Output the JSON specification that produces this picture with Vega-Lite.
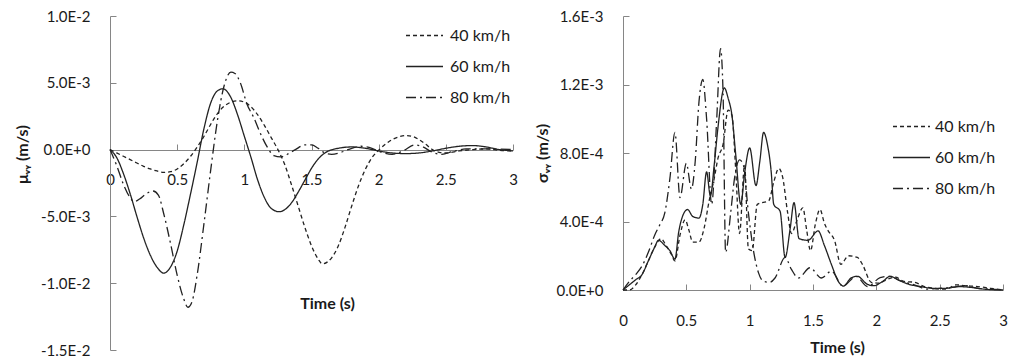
{
  "$schema": "https://vega.github.io/schema/vega-lite/v6.json",
  "background": "white",
  "padding": {"left": 14, "top": 9, "right": 0, "bottom": 0},
  "spacing": 110,
  "bounds": "flush",
  "config": {
    "font": "Lato",
    "view": {"stroke": null},
    "axis": {
      "domainColor": "#868686", "tickColor": "#868686", "tickSize": -6, "grid": false,
      "labelFontSize": 15, "labelColor": "#1a1a1a", "labelFont": "Lato",
      "titleFontSize": 16, "titleFontWeight": "bold", "titleColor": "#1a1a1a", "titleFont": "Lato",
      "labelFlush": false, "labelOverlap": false
    },
    "legend": {
      "symbolType": "stroke", "symbolSize": 1369, "symbolStrokeWidth": 1.3, "symbolStrokeColor": "#222",
      "labelFontSize": 16, "labelFont": "Lato", "labelColor": "#1a1a1a", "rowPadding": 3, "padding": 0, "labelOffset": 6
    }
  },
  "datasets": {
    "mu": [
      {"s":"40 km/h","t":0,"v":0},{"s":"40 km/h","t":0.05,"v":-0.25e-3},{"s":"40 km/h","t":0.1,"v":-0.5e-3},{"s":"40 km/h","t":0.15,"v":-0.75e-3},{"s":"40 km/h","t":0.2,"v":-1.0e-3},{"s":"40 km/h","t":0.25,"v":-1.25e-3},{"s":"40 km/h","t":0.3,"v":-1.45e-3},{"s":"40 km/h","t":0.35,"v":-1.6e-3},{"s":"40 km/h","t":0.4,"v":-1.7e-3},{"s":"40 km/h","t":0.45,"v":-1.65e-3},{"s":"40 km/h","t":0.5,"v":-1.45e-3},{"s":"40 km/h","t":0.55,"v":-1.05e-3},{"s":"40 km/h","t":0.6,"v":-0.5e-3},{"s":"40 km/h","t":0.65,"v":0.2e-3},{"s":"40 km/h","t":0.7,"v":1.0e-3},{"s":"40 km/h","t":0.75,"v":1.9e-3},{"s":"40 km/h","t":0.8,"v":2.7e-3},{"s":"40 km/h","t":0.85,"v":3.25e-3},{"s":"40 km/h","t":0.9,"v":3.55e-3},{"s":"40 km/h","t":0.95,"v":3.65e-3},{"s":"40 km/h","t":1.0,"v":3.55e-3},{"s":"40 km/h","t":1.05,"v":3.2e-3},{"s":"40 km/h","t":1.1,"v":2.6e-3},{"s":"40 km/h","t":1.15,"v":1.8e-3},{"s":"40 km/h","t":1.2,"v":0.9e-3},{"s":"40 km/h","t":1.25,"v":0},{"s":"40 km/h","t":1.3,"v":-1.1e-3},{"s":"40 km/h","t":1.35,"v":-2.6e-3},{"s":"40 km/h","t":1.4,"v":-4.2e-3},{"s":"40 km/h","t":1.45,"v":-5.8e-3},{"s":"40 km/h","t":1.5,"v":-7.2e-3},{"s":"40 km/h","t":1.55,"v":-8.2e-3},{"s":"40 km/h","t":1.58,"v":-8.55e-3},{"s":"40 km/h","t":1.62,"v":-8.4e-3},{"s":"40 km/h","t":1.65,"v":-8.1e-3},{"s":"40 km/h","t":1.7,"v":-7.2e-3},{"s":"40 km/h","t":1.75,"v":-5.8e-3},{"s":"40 km/h","t":1.8,"v":-4.2e-3},{"s":"40 km/h","t":1.85,"v":-2.7e-3},{"s":"40 km/h","t":1.9,"v":-1.5e-3},{"s":"40 km/h","t":1.95,"v":-0.6e-3},{"s":"40 km/h","t":2.0,"v":-0.05e-3},{"s":"40 km/h","t":2.05,"v":0.4e-3},{"s":"40 km/h","t":2.1,"v":0.75e-3},{"s":"40 km/h","t":2.15,"v":0.95e-3},{"s":"40 km/h","t":2.2,"v":1.05e-3},{"s":"40 km/h","t":2.25,"v":1.0e-3},{"s":"40 km/h","t":2.3,"v":0.75e-3},{"s":"40 km/h","t":2.35,"v":0.4e-3},{"s":"40 km/h","t":2.4,"v":0},{"s":"40 km/h","t":2.45,"v":-0.2e-3},{"s":"40 km/h","t":2.5,"v":-0.25e-3},{"s":"40 km/h","t":2.6,"v":-0.1e-3},{"s":"40 km/h","t":2.7,"v":0},{"s":"40 km/h","t":2.8,"v":0.05e-3},{"s":"40 km/h","t":2.9,"v":-0.05e-3},{"s":"40 km/h","t":3.0,"v":-0.1e-3},
      {"s":"60 km/h","t":0,"v":0},{"s":"60 km/h","t":0.05,"v":-0.6e-3},{"s":"60 km/h","t":0.1,"v":-1.8e-3},{"s":"60 km/h","t":0.15,"v":-3.3e-3},{"s":"60 km/h","t":0.2,"v":-5.0e-3},{"s":"60 km/h","t":0.25,"v":-6.6e-3},{"s":"60 km/h","t":0.3,"v":-7.9e-3},{"s":"60 km/h","t":0.35,"v":-8.8e-3},{"s":"60 km/h","t":0.4,"v":-9.25e-3},{"s":"60 km/h","t":0.45,"v":-8.8e-3},{"s":"60 km/h","t":0.5,"v":-7.6e-3},{"s":"60 km/h","t":0.55,"v":-5.6e-3},{"s":"60 km/h","t":0.6,"v":-3.3e-3},{"s":"60 km/h","t":0.65,"v":-0.9e-3},{"s":"60 km/h","t":0.7,"v":1.6e-3},{"s":"60 km/h","t":0.75,"v":3.5e-3},{"s":"60 km/h","t":0.8,"v":4.4e-3},{"s":"60 km/h","t":0.84,"v":4.55e-3},{"s":"60 km/h","t":0.9,"v":3.9e-3},{"s":"60 km/h","t":0.95,"v":2.6e-3},{"s":"60 km/h","t":1.0,"v":1.0e-3},{"s":"60 km/h","t":1.05,"v":-0.6e-3},{"s":"60 km/h","t":1.1,"v":-2.3e-3},{"s":"60 km/h","t":1.15,"v":-3.6e-3},{"s":"60 km/h","t":1.2,"v":-4.4e-3},{"s":"60 km/h","t":1.26,"v":-4.65e-3},{"s":"60 km/h","t":1.3,"v":-4.5e-3},{"s":"60 km/h","t":1.35,"v":-4.0e-3},{"s":"60 km/h","t":1.4,"v":-3.2e-3},{"s":"60 km/h","t":1.45,"v":-2.3e-3},{"s":"60 km/h","t":1.5,"v":-1.4e-3},{"s":"60 km/h","t":1.55,"v":-0.7e-3},{"s":"60 km/h","t":1.6,"v":-0.25e-3},{"s":"60 km/h","t":1.7,"v":0.1e-3},{"s":"60 km/h","t":1.8,"v":0.2e-3},{"s":"60 km/h","t":1.9,"v":0.1e-3},{"s":"60 km/h","t":2.0,"v":-0.1e-3},{"s":"60 km/h","t":2.1,"v":-0.25e-3},{"s":"60 km/h","t":2.2,"v":-0.3e-3},{"s":"60 km/h","t":2.3,"v":-0.25e-3},{"s":"60 km/h","t":2.4,"v":-0.1e-3},{"s":"60 km/h","t":2.5,"v":0.1e-3},{"s":"60 km/h","t":2.6,"v":0.25e-3},{"s":"60 km/h","t":2.7,"v":0.3e-3},{"s":"60 km/h","t":2.8,"v":0.2e-3},{"s":"60 km/h","t":2.9,"v":0},{"s":"60 km/h","t":3.0,"v":-0.1e-3},
      {"s":"80 km/h","t":0,"v":0},{"s":"80 km/h","t":0.05,"v":-1.2e-3},{"s":"80 km/h","t":0.1,"v":-2.6e-3},{"s":"80 km/h","t":0.15,"v":-3.6e-3},{"s":"80 km/h","t":0.18,"v":-3.9e-3},{"s":"80 km/h","t":0.22,"v":-3.7e-3},{"s":"80 km/h","t":0.27,"v":-3.3e-3},{"s":"80 km/h","t":0.32,"v":-3.1e-3},{"s":"80 km/h","t":0.36,"v":-3.4e-3},{"s":"80 km/h","t":0.4,"v":-4.8e-3},{"s":"80 km/h","t":0.45,"v":-7.0e-3},{"s":"80 km/h","t":0.5,"v":-9.4e-3},{"s":"80 km/h","t":0.55,"v":-11.2e-3},{"s":"80 km/h","t":0.58,"v":-11.8e-3},{"s":"80 km/h","t":0.61,"v":-11.4e-3},{"s":"80 km/h","t":0.65,"v":-9.3e-3},{"s":"80 km/h","t":0.7,"v":-5.5e-3},{"s":"80 km/h","t":0.75,"v":-1.5e-3},{"s":"80 km/h","t":0.8,"v":2.2e-3},{"s":"80 km/h","t":0.85,"v":4.8e-3},{"s":"80 km/h","t":0.9,"v":5.8e-3},{"s":"80 km/h","t":0.93,"v":5.7e-3},{"s":"80 km/h","t":0.97,"v":5.0e-3},{"s":"80 km/h","t":1.02,"v":3.4e-3},{"s":"80 km/h","t":1.07,"v":2.4e-3},{"s":"80 km/h","t":1.12,"v":1.2e-3},{"s":"80 km/h","t":1.17,"v":0.2e-3},{"s":"80 km/h","t":1.22,"v":-0.45e-3},{"s":"80 km/h","t":1.27,"v":-0.55e-3},{"s":"80 km/h","t":1.32,"v":-0.35e-3},{"s":"80 km/h","t":1.38,"v":0},{"s":"80 km/h","t":1.45,"v":0.35e-3},{"s":"80 km/h","t":1.5,"v":0.35e-3},{"s":"80 km/h","t":1.55,"v":0.1e-3},{"s":"80 km/h","t":1.6,"v":-0.25e-3},{"s":"80 km/h","t":1.65,"v":-0.35e-3},{"s":"80 km/h","t":1.72,"v":-0.2e-3},{"s":"80 km/h","t":1.8,"v":0.1e-3},{"s":"80 km/h","t":1.87,"v":0.25e-3},{"s":"80 km/h","t":1.95,"v":0.1e-3},{"s":"80 km/h","t":2.02,"v":-0.2e-3},{"s":"80 km/h","t":2.1,"v":-0.35e-3},{"s":"80 km/h","t":2.18,"v":-0.1e-3},{"s":"80 km/h","t":2.27,"v":0.35e-3},{"s":"80 km/h","t":2.33,"v":0.2e-3},{"s":"80 km/h","t":2.4,"v":-0.2e-3},{"s":"80 km/h","t":2.47,"v":-0.35e-3},{"s":"80 km/h","t":2.55,"v":-0.15e-3},{"s":"80 km/h","t":2.65,"v":0.05e-3},{"s":"80 km/h","t":2.8,"v":0.05e-3},{"s":"80 km/h","t":3.0,"v":0}
    ],
    "sigma": [
      {"s":"40 km/h","t":0,"v":0},{"s":"40 km/h","t":0.05,"v":0},{"s":"40 km/h","t":0.1,"v":0.3e-4},{"s":"40 km/h","t":0.15,"v":0.9e-4},{"s":"40 km/h","t":0.2,"v":1.7e-4},{"s":"40 km/h","t":0.25,"v":2.5e-4},{"s":"40 km/h","t":0.3,"v":3.0e-4},{"s":"40 km/h","t":0.34,"v":2.6e-4},{"s":"40 km/h","t":0.38,"v":2.1e-4},{"s":"40 km/h","t":0.41,"v":1.7e-4},{"s":"40 km/h","t":0.45,"v":3.2e-4},{"s":"40 km/h","t":0.49,"v":4.1e-4},{"s":"40 km/h","t":0.52,"v":3.5e-4},{"s":"40 km/h","t":0.55,"v":2.8e-4},{"s":"40 km/h","t":0.6,"v":2.8e-4},{"s":"40 km/h","t":0.64,"v":3.6e-4},{"s":"40 km/h","t":0.68,"v":5.2e-4},{"s":"40 km/h","t":0.72,"v":6.5e-4},{"s":"40 km/h","t":0.75,"v":7.7e-4},{"s":"40 km/h","t":0.79,"v":8.5e-4},{"s":"40 km/h","t":0.83,"v":10.5e-4},{"s":"40 km/h","t":0.86,"v":10.2e-4},{"s":"40 km/h","t":0.89,"v":7.0e-4},{"s":"40 km/h","t":0.92,"v":3.3e-4},{"s":"40 km/h","t":0.96,"v":7.3e-4},{"s":"40 km/h","t":0.99,"v":2.4e-4},{"s":"40 km/h","t":1.02,"v":2.3e-4},{"s":"40 km/h","t":1.06,"v":5.0e-4},{"s":"40 km/h","t":1.1,"v":5.1e-4},{"s":"40 km/h","t":1.15,"v":5.2e-4},{"s":"40 km/h","t":1.19,"v":6.3e-4},{"s":"40 km/h","t":1.23,"v":7.1e-4},{"s":"40 km/h","t":1.26,"v":6.6e-4},{"s":"40 km/h","t":1.3,"v":4.5e-4},{"s":"40 km/h","t":1.33,"v":3.3e-4},{"s":"40 km/h","t":1.37,"v":4.0e-4},{"s":"40 km/h","t":1.42,"v":4.8e-4},{"s":"40 km/h","t":1.45,"v":3.5e-4},{"s":"40 km/h","t":1.48,"v":2.3e-4},{"s":"40 km/h","t":1.52,"v":3.9e-4},{"s":"40 km/h","t":1.555,"v":4.7e-4},{"s":"40 km/h","t":1.59,"v":3.9e-4},{"s":"40 km/h","t":1.62,"v":3.45e-4},{"s":"40 km/h","t":1.67,"v":2.9e-4},{"s":"40 km/h","t":1.72,"v":1.5e-4},{"s":"40 km/h","t":1.78,"v":2.0e-4},{"s":"40 km/h","t":1.85,"v":1.9e-4},{"s":"40 km/h","t":1.89,"v":1.5e-4},{"s":"40 km/h","t":1.96,"v":0.45e-4},{"s":"40 km/h","t":2.02,"v":0.4e-4},{"s":"40 km/h","t":2.08,"v":0.6e-4},{"s":"40 km/h","t":2.15,"v":0.75e-4},{"s":"40 km/h","t":2.22,"v":0.5e-4},{"s":"40 km/h","t":2.3,"v":0.45e-4},{"s":"40 km/h","t":2.38,"v":0.2e-4},{"s":"40 km/h","t":2.45,"v":0.1e-4},{"s":"40 km/h","t":2.55,"v":0.05e-4},{"s":"40 km/h","t":2.63,"v":0.3e-4},{"s":"40 km/h","t":2.7,"v":0.25e-4},{"s":"40 km/h","t":2.8,"v":0.2e-4},{"s":"40 km/h","t":2.9,"v":0.1e-4},{"s":"40 km/h","t":3.0,"v":0},
      {"s":"60 km/h","t":0,"v":0},{"s":"60 km/h","t":0.05,"v":0.3e-4},{"s":"60 km/h","t":0.1,"v":0.6e-4},{"s":"60 km/h","t":0.15,"v":0.9e-4},{"s":"60 km/h","t":0.2,"v":1.7e-4},{"s":"60 km/h","t":0.25,"v":2.5e-4},{"s":"60 km/h","t":0.28,"v":2.9e-4},{"s":"60 km/h","t":0.33,"v":2.6e-4},{"s":"60 km/h","t":0.37,"v":2.3e-4},{"s":"60 km/h","t":0.41,"v":1.8e-4},{"s":"60 km/h","t":0.44,"v":3.4e-4},{"s":"60 km/h","t":0.47,"v":4.3e-4},{"s":"60 km/h","t":0.51,"v":4.7e-4},{"s":"60 km/h","t":0.55,"v":4.3e-4},{"s":"60 km/h","t":0.6,"v":4.2e-4},{"s":"60 km/h","t":0.63,"v":5.0e-4},{"s":"60 km/h","t":0.66,"v":6.9e-4},{"s":"60 km/h","t":0.69,"v":5.5e-4},{"s":"60 km/h","t":0.72,"v":7.3e-4},{"s":"60 km/h","t":0.75,"v":9.5e-4},{"s":"60 km/h","t":0.8,"v":11.8e-4},{"s":"60 km/h","t":0.83,"v":11.2e-4},{"s":"60 km/h","t":0.86,"v":10.2e-4},{"s":"60 km/h","t":0.89,"v":7.9e-4},{"s":"60 km/h","t":0.93,"v":5.0e-4},{"s":"60 km/h","t":0.96,"v":6.8e-4},{"s":"60 km/h","t":1.0,"v":8.3e-4},{"s":"60 km/h","t":1.05,"v":6.1e-4},{"s":"60 km/h","t":1.08,"v":7.5e-4},{"s":"60 km/h","t":1.11,"v":9.2e-4},{"s":"60 km/h","t":1.14,"v":8.5e-4},{"s":"60 km/h","t":1.17,"v":6.9e-4},{"s":"60 km/h","t":1.19,"v":5.0e-4},{"s":"60 km/h","t":1.24,"v":4.6e-4},{"s":"60 km/h","t":1.28,"v":1.9e-4},{"s":"60 km/h","t":1.32,"v":3.6e-4},{"s":"60 km/h","t":1.35,"v":5.1e-4},{"s":"60 km/h","t":1.39,"v":3.0e-4},{"s":"60 km/h","t":1.46,"v":2.9e-4},{"s":"60 km/h","t":1.54,"v":3.45e-4},{"s":"60 km/h","t":1.59,"v":2.6e-4},{"s":"60 km/h","t":1.645,"v":1.5e-4},{"s":"60 km/h","t":1.7,"v":0.5e-4},{"s":"60 km/h","t":1.74,"v":0.23e-4},{"s":"60 km/h","t":1.8,"v":0.7e-4},{"s":"60 km/h","t":1.85,"v":0.8e-4},{"s":"60 km/h","t":1.93,"v":0.33e-4},{"s":"60 km/h","t":1.98,"v":0.25e-4},{"s":"60 km/h","t":2.05,"v":0.5e-4},{"s":"60 km/h","t":2.11,"v":0.8e-4},{"s":"60 km/h","t":2.17,"v":0.6e-4},{"s":"60 km/h","t":2.25,"v":0.35e-4},{"s":"60 km/h","t":2.35,"v":0.2e-4},{"s":"60 km/h","t":2.45,"v":0.1e-4},{"s":"60 km/h","t":2.55,"v":0.1e-4},{"s":"60 km/h","t":2.65,"v":0.2e-4},{"s":"60 km/h","t":2.75,"v":0.15e-4},{"s":"60 km/h","t":2.85,"v":0.05e-4},{"s":"60 km/h","t":3.0,"v":0},
      {"s":"80 km/h","t":0,"v":0},{"s":"80 km/h","t":0.05,"v":0.5e-4},{"s":"80 km/h","t":0.1,"v":0.9e-4},{"s":"80 km/h","t":0.15,"v":1.4e-4},{"s":"80 km/h","t":0.2,"v":2.2e-4},{"s":"80 km/h","t":0.25,"v":3.2e-4},{"s":"80 km/h","t":0.29,"v":3.8e-4},{"s":"80 km/h","t":0.33,"v":4.5e-4},{"s":"80 km/h","t":0.37,"v":6.5e-4},{"s":"80 km/h","t":0.41,"v":9.2e-4},{"s":"80 km/h","t":0.45,"v":5.4e-4},{"s":"80 km/h","t":0.5,"v":7.4e-4},{"s":"80 km/h","t":0.54,"v":5.9e-4},{"s":"80 km/h","t":0.57,"v":7.5e-4},{"s":"80 km/h","t":0.6,"v":11.0e-4},{"s":"80 km/h","t":0.63,"v":12.3e-4},{"s":"80 km/h","t":0.66,"v":10.0e-4},{"s":"80 km/h","t":0.7,"v":5.0e-4},{"s":"80 km/h","t":0.74,"v":10.0e-4},{"s":"80 km/h","t":0.77,"v":14.1e-4},{"s":"80 km/h","t":0.79,"v":11.5e-4},{"s":"80 km/h","t":0.81,"v":2.2e-4},{"s":"80 km/h","t":0.85,"v":4.5e-4},{"s":"80 km/h","t":0.88,"v":6.5e-4},{"s":"80 km/h","t":0.92,"v":7.6e-4},{"s":"80 km/h","t":0.95,"v":7.3e-4},{"s":"80 km/h","t":0.99,"v":4.5e-4},{"s":"80 km/h","t":1.03,"v":2.3e-4},{"s":"80 km/h","t":1.07,"v":1.0e-4},{"s":"80 km/h","t":1.11,"v":0.5e-4},{"s":"80 km/h","t":1.16,"v":0.45e-4},{"s":"80 km/h","t":1.2,"v":0.7e-4},{"s":"80 km/h","t":1.28,"v":1.9e-4},{"s":"80 km/h","t":1.33,"v":1.2e-4},{"s":"80 km/h","t":1.385,"v":0.7e-4},{"s":"80 km/h","t":1.476,"v":1.3e-4},{"s":"80 km/h","t":1.567,"v":0.7e-4},{"s":"80 km/h","t":1.645,"v":1.1e-4},{"s":"80 km/h","t":1.737,"v":0.23e-4},{"s":"80 km/h","t":1.84,"v":0.8e-4},{"s":"80 km/h","t":1.93,"v":0.2e-4},{"s":"80 km/h","t":2.03,"v":0.72e-4},{"s":"80 km/h","t":2.1,"v":0.8e-4},{"s":"80 km/h","t":2.2,"v":0.5e-4},{"s":"80 km/h","t":2.3,"v":0.3e-4},{"s":"80 km/h","t":2.4,"v":0.05e-4},{"s":"80 km/h","t":2.5,"v":0.1e-4},{"s":"80 km/h","t":2.6,"v":0.15e-4},{"s":"80 km/h","t":2.7,"v":0.25e-4},{"s":"80 km/h","t":2.8,"v":0.1e-4},{"s":"80 km/h","t":2.9,"v":0.05e-4},{"s":"80 km/h","t":3.0,"v":0}
    ]
  },
  "resolve": {
    "scale": {"x": "independent", "y": "independent", "strokeDash": "independent"},
    "legend": {"strokeDash": "independent"}
  },
  "hconcat": [
    {
      "width": 403,
      "height": 334,
      "data": {"name": "mu"},
      "mark": {"type": "line", "interpolate": "monotone", "color": "#222222", "strokeWidth": 1.3},
      "encoding": {
        "x": {
          "field": "t", "type": "quantitative",
          "scale": {"domain": [0, 3], "nice": false, "zero": false},
          "axis": {
            "values": [0, 0.5, 1, 1.5, 2, 2.5, 3], "format": "~g", "offset": -200,
            "labelPadding": 28, "title": "Time (s)",
            "titleX": 217, "titleY": 153, "titleAlign": "center", "titleBaseline": "middle"
          }
        },
        "y": {
          "field": "v", "type": "quantitative",
          "scale": {"domain": [-0.015, 0.01], "nice": false},
          "axis": {
            "values": [-0.015, -0.01, -0.005, 0, 0.005, 0.01],
            "labelExpr": "replace(upper(format(datum.value, '.1e')), '\u2212', '-')",
            "labelPadding": 26, "title": "μᵥᵧ (m/s)",
            "titleAngle": -90, "titleX": -88, "titleY": 138, "titleAlign": "center", "titleBaseline": "middle"
          }
        },
        "strokeDash": {
          "field": "s", "type": "nominal",
          "scale": {"domain": ["40 km/h", "60 km/h", "80 km/h"], "range": [[4, 3], [1, 0], [10, 4, 2, 4]]},
          "legend": {"orient": "none", "legendX": 295, "legendY": 0, "title": null}
        }
      }
    },
    {
      "width": 380,
      "height": 274,
      "data": {"name": "sigma"},
      "mark": {"type": "line", "interpolate": "monotone", "color": "#222222", "strokeWidth": 1.3},
      "encoding": {
        "x": {
          "field": "t", "type": "quantitative",
          "scale": {"domain": [0, 3], "nice": false, "zero": false},
          "axis": {
            "values": [0, 0.5, 1, 1.5, 2, 2.5, 3], "format": "~g",
            "labelPadding": 29, "title": "Time (s)",
            "titleX": 214, "titleY": 57, "titleAlign": "center", "titleBaseline": "middle"
          }
        },
        "y": {
          "field": "v", "type": "quantitative",
          "scale": {"domain": [0, 0.0016], "nice": false},
          "axis": {
            "values": [0, 0.0004, 0.0008, 0.0012, 0.0016],
            "labelExpr": "replace(upper(format(datum.value, '.1e')), '\u2212', '-')",
            "labelPadding": 26, "title": "σᵥᵧ (m/s)",
            "titleAngle": -90, "titleX": -81, "titleY": 137, "titleAlign": "center", "titleBaseline": "middle"
          }
        },
        "strokeDash": {
          "field": "s", "type": "nominal",
          "scale": {"domain": ["40 km/h", "60 km/h", "80 km/h"], "range": [[4, 3], [1, 0], [10, 4, 2, 4]]},
          "legend": {"orient": "none", "legendX": 269, "legendY": 91, "title": null, "labelOffset": 4}
        }
      }
    }
  ]
}
